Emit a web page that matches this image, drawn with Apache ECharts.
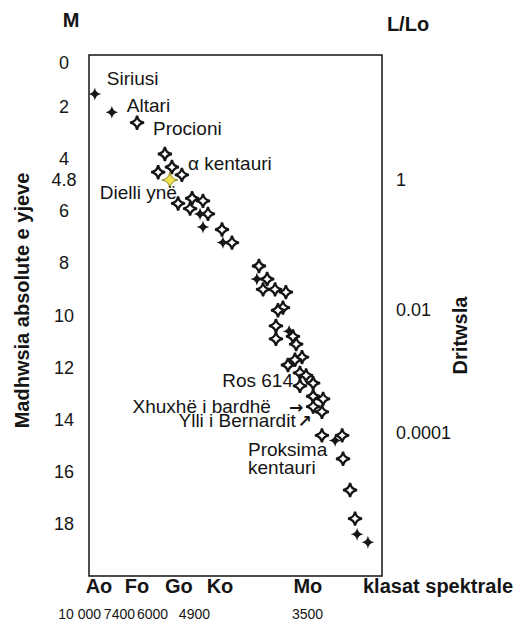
<!DOCTYPE html>
<html><head><meta charset="utf-8">
<script src="https://cdn.jsdelivr.net/npm/echarts@6/dist/echarts.min.js"></script>
<style>html,body{margin:0;padding:0;background:#fff}#c{width:526px;height:630px}</style>
</head><body><div id="c"></div>
<script>
// ---------------- data ----------------
// horizontal axis: relative position along the spectral sequence (0-100)
const spectralClasses = ['Ao', 'Fo', 'Go', 'Ko', 'Mo'];
const spectralPos = [3.4, 16.4, 30.7, 44.7, 74.7];
const temperatures = ['10 000', '7400', '6000', '4900', '3500'];
const temperaturePos = [4.1, 15.7, 27.0, 41.3, 79.9];
const magnitudeTicks = [0, 2, 4, 4.8, 6, 8, 10, 12, 14, 16, 18];
const luminosityTicks = ['1', '0.01', '0.0001'];
const luminosityPos = [4.8, 9.8, 14.5];

// solid (black) stars
const filledX = [2.0, 7.8, 37.9, 38.9, 45.7, 57.3, 68.3, 84.0, 91.5, 95.2];
const filledM = [1.5, 2.2, 6.1, 6.6, 7.2, 8.6, 10.6, 14.8, 18.4, 18.7];
const filledNames = ['Siriusi', 'Altari', '', '', '', '', '', '', '', ''];

// open (white-centred) stars
const hollowX = [16.4, 25.9, 28.3, 23.6, 31.7, 35.2, 30.4, 38.9, 34.5, 40.6,
  45.4, 48.8, 58.0, 60.8, 59.4, 63.5, 67.2, 66.2, 64.5, 63.8,
  63.8, 69.6, 70.7, 72.7, 70.3, 67.9, 72.0, 74.1, 76.5, 72.0,
  76.5, 79.9, 76.5, 79.5, 79.5, 86.4, 86.7, 89.1, 90.8];
const hollowM = [2.6, 3.8, 4.3, 4.5, 4.6, 5.5, 5.7, 5.6, 5.9, 6.1,
  6.7, 7.2, 8.1, 8.6, 9.0, 9.0, 9.1, 9.7, 9.8, 10.4,
  10.9, 10.8, 11.1, 11.6, 11.7, 11.9, 12.2, 12.3, 12.6, 12.7,
  13.1, 13.2, 13.5, 13.7, 14.6, 14.6, 15.5, 16.7, 17.8];
const hollowNames = ['Procioni', '', 'α kentauri', '', '', '', '', '', '', '',
  '', '', '', '', '', '', '', '', '', '',
  '', '', '', '', '', '', '', '', '', 'Ros 614',
  '', '', 'Xhuxhë i bardhë', 'Ylli i Bernardit', '', '', 'Proksima\nkentauri', '', ''];

// the Sun
const sunX = [27.6];
const sunM = [4.8];
const sunNames = ['Dielli ynë'];

// ---------------- presentation ----------------
const FONT = '"Liberation Sans", Arial, Helvetica, sans-serif';
const INK = '#151515';
const STAR = 'path://M0,-10 Q1.3,-1.3 10,0 Q1.3,1.3 0,10 Q-1.3,1.3 -10,0 Q-1.3,-1.3 0,-10 Z';

const labelLayout = {
  'Siriusi': { align: 'left', offset: [12, -16] },
  'Altari': { align: 'left', offset: [15, -7] },
  'Procioni': { align: 'left', offset: [16, 6] },
  'α kentauri': { align: 'left', offset: [16, -4] },
  'Dielli ynë': { align: 'right', offset: [7, 12] },
  'Ros 614': { align: 'right', offset: [-7, -5] },
  'Xhuxhë i bardhë': { align: 'right', offset: [-10, 0], arrow: '→', gap: 18 },
  'Ylli i Bernardit': { align: 'right', offset: [-10, 9], arrow: '↗', gap: 2 },
  'Proksima\nkentauri': { align: 'left', offset: [-95, 0] }
};

function pickIndex(arr, v) {
  let best = 0;
  arr.forEach((a, i) => { if (Math.abs(a - v) < Math.abs(arr[best] - v)) best = i; });
  return best;
}

function buildData(xs, ms, names) {
  return xs.map((x, i) => {
    const item = { value: [x, ms[i]] };
    const n = names[i];
    if (n) {
      const L = labelLayout[n];
      const text = L.arrow ? '{t|' + n + '}{a|' + L.arrow + '}' : n;
      item.label = {
        show: true, position: 'inside', align: L.align, verticalAlign: 'middle',
        offset: L.offset, formatter: text,
        rich: L.arrow ? {
          t: { fontSize: 19, fontFamily: FONT, color: INK },
          a: { fontSize: 17, fontFamily: '"DejaVu Sans", sans-serif', fontWeight: 'bold', color: INK, padding: [0, 0, 0, L.gap] }
        } : undefined
      };
    }
    return item;
  });
}

const baseLabel = { show: false, fontSize: 19, fontFamily: FONT, color: INK, lineHeight: 18 };

const chart = echarts.init(document.getElementById('c'), null, { renderer: 'svg' });
chart.setOption({
  animation: false,
  backgroundColor: '#fff',
  grid: {
    left: 89, top: 55, width: 293, height: 521,
    show: true, borderColor: INK, borderWidth: 1.5, backgroundColor: 'transparent',
    containLabel: false, outerBoundsMode: 'none'
  },
  xAxis: [
    {
      type: 'value', min: 0, max: 100, position: 'bottom',
      axisLine: { show: false }, axisTick: { show: false }, splitLine: { show: false },
      axisLabel: {
        customValues: spectralPos, margin: 0, align: 'center', hideOverlap: false,
        fontSize: 20, fontWeight: 'bold', fontFamily: FONT, color: INK,
        formatter: v => spectralClasses[pickIndex(spectralPos, v)]
      }
    },
    {
      type: 'value', min: 0, max: 100, position: 'top', offset: -521,
      axisLine: { show: false }, axisTick: { show: false }, splitLine: { show: false },
      axisLabel: {
        inside: true, customValues: temperaturePos, margin: 31, align: 'right', hideOverlap: false,
        fontSize: 14, fontFamily: FONT, color: INK,
        formatter: v => temperatures[pickIndex(temperaturePos, v)]
      }
    }
  ],
  yAxis: [
    {
      type: 'value', min: 0, max: 20, inverse: true, position: 'left',
      axisLine: { show: false }, axisTick: { show: false }, splitLine: { show: false },
      axisLabel: {
        customValues: magnitudeTicks, margin: 25, align: 'center',
        fontSize: 18, fontFamily: FONT, color: INK,
        formatter: v => (v === 0 ? '{z|0}' : String(v)),
        rich: { z: { fontSize: 18, fontFamily: FONT, color: INK, padding: [16, 0, 0, 0] } }
      },
      name: 'Madhwsia absolute e yjeve', nameLocation: 'middle', nameGap: 57, nameRotate: 90,
      nameMoveOverlap: false,
      nameTextStyle: { fontSize: 20, fontWeight: 'bold', fontFamily: FONT, color: INK, padding: [0, 0, 0, 30] }
    },
    {
      type: 'value', min: 0, max: 20, inverse: true, position: 'right',
      axisLine: { show: false }, axisTick: { show: false }, splitLine: { show: false },
      axisLabel: {
        customValues: luminosityPos, margin: 14, align: 'left',
        fontSize: 18, fontFamily: FONT, color: INK,
        formatter: v => luminosityTicks[pickIndex(luminosityPos, v)]
      },
      name: 'Dritwsla', nameLocation: 'middle', nameGap: 68, nameRotate: 90,
      nameMoveOverlap: false,
      nameTextStyle: { fontSize: 20, fontWeight: 'bold', fontFamily: FONT, color: INK, padding: [0, 40, 0, 0] }
    }
  ],
  graphic: [
    { type: 'text', x: 71, y: 20, silent: true,
      style: { text: 'M', font: 'bold 20px ' + FONT, fill: INK, align: 'center', verticalAlign: 'middle' } },
    { type: 'text', x: 408, y: 24, silent: true,
      style: { text: 'L/Lo', font: 'bold 20px ' + FONT, fill: INK, align: 'center', verticalAlign: 'middle' } },
    { type: 'text', x: 363, y: 586, silent: true,
      style: { text: 'klasat spektrale', font: 'bold 20px ' + FONT, fill: INK, align: 'left', verticalAlign: 'middle' } }
  ],
  series: [
    {
      name: 'hollow', type: 'scatter', symbol: STAR, symbolSize: 14, silent: true,
      itemStyle: { color: '#fff', borderColor: INK, borderWidth: 2.3, opacity: 1 },
      label: baseLabel,
      data: buildData(hollowX, hollowM, hollowNames)
    },
    {
      name: 'filled', type: 'scatter', symbol: STAR, symbolSize: 13, silent: true,
      itemStyle: { color: INK, opacity: 1 },
      label: baseLabel,
      data: buildData(filledX, filledM, filledNames)
    },
    {
      name: 'sun', type: 'scatter', symbol: STAR, symbolSize: 16, silent: true,
      itemStyle: { color: '#efe24a', borderColor: '#8d8a2a', borderWidth: 1, opacity: 1 },
      label: baseLabel,
      data: buildData(sunX, sunM, sunNames)
    }
  ]
});
</script>
</body></html>
